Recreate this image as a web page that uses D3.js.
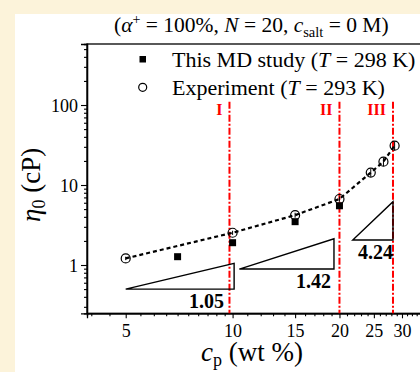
<!DOCTYPE html>
<html>
<head>
<meta charset="utf-8">
<script src="https://cdn.jsdelivr.net/npm/d3@7"></script>
<style>
  html, body { margin: 0; padding: 0; background: #fcf3da; }
  svg { display: block; }
  text { font-family: "Liberation Serif", "Times New Roman", serif; fill: #000; }
</style>
</head>
<body>
<svg id="chart" width="420" height="372"></svg>
<script>
// Polymer concentration (wt %) and zero-shear viscosity (cP)
const mdConc = [7, 10, 15, 20];
const mdVisc = [1.27, 1.9, 3.48, 5.5];

const expConc = [5, 10, 15, 20, 24.5, 26.6, 28.6];
const expVisc = [1.21, 2.53, 4.2, 6.68, 14.3, 19.6, 31];
const expErr  = [0.06, 0.15, 0.3, 0.5, 1.6, 2.4, 4.0];

// Regime boundaries
const regimeConc = [9.8, 20, 28.3];
const regimeLabel = ["I", "II", "III"];

// Power-law slope guides
const slopeX0 = [5, 10.45, 21.8];
const slopeX1 = [10.1, 19.3, 28.3];
const slopeY0 = [0.5, 0.89, 2.05];
const slopeK  = [1.05, 1.42, 4.24];

const xMajor = [5, 10, 15, 20, 25, 30];
const xMinor = [4, 4.5, 5.5, 6, 6.5, 7, 7.5, 8, 8.5, 9, 9.5,
                11, 12, 13, 14, 16, 17, 18, 19,
                21, 22, 23, 24, 26, 27, 28, 29, 31, 32, 33, 34, 35];
const yMajor = [1, 10, 100];
const yMinor = [0.3, 0.4, 0.5, 0.6, 0.7, 0.8, 0.9,
                2, 3, 4, 5, 6, 7, 8, 9,
                20, 30, 40, 50, 60, 70, 80, 90,
                200, 300, 400, 500];

const svg = d3.select("#chart");

// white panel
svg.append("rect").attr("x", 15).attr("y", 14).attr("width", 405).attr("height", 358).attr("fill", "#fff");

const x = d3.scaleLog().domain([3.89, 36]).range([87, 430.1]);
const y = d3.scaleLog().domain([0.249, 579]).range([313.3, 44]);

// frame
svg.append("rect")
  .attr("x", x.range()[0]).attr("y", y.range()[1])
  .attr("width", x.range()[1] - x.range()[0])
  .attr("height", y.range()[0] - y.range()[1])
  .attr("fill", "none").attr("stroke", "#000").attr("stroke-width", 1.3);

// axes
const gx = svg.append("g").attr("transform", `translate(0,${y.range()[0]})`);
gx.call(d3.axisBottom(x).tickValues(xMajor).tickSize(5).tickFormat(d3.format("d")));
const gxm = svg.append("g").attr("transform", `translate(0,${y.range()[0]})`);
gxm.call(d3.axisBottom(x).tickValues(xMinor).tickSize(3).tickFormat(""));

const gy = svg.append("g").attr("transform", `translate(${x.range()[0]},0)`);
gy.call(d3.axisLeft(y).tickValues(yMajor).tickSize(6).tickPadding(3).tickFormat(d3.format("d")));
const gym = svg.append("g").attr("transform", `translate(${x.range()[0]},0)`);
gym.call(d3.axisLeft(y).tickValues(yMinor).tickSize(3).tickFormat(""));

[gx, gxm, gy, gym].forEach(g => {
  g.select(".domain").attr("stroke", "#000").attr("stroke-width", 1.3);
  g.selectAll(".tick line").attr("stroke", "#000").attr("stroke-width", 1.1);
  g.selectAll(".tick text").attr("font-family", "Liberation Serif").attr("font-size", 18).attr("fill", "#000");
});
gx.selectAll(".tick text").attr("dy", "0.88em");
gy.selectAll(".tick text").attr("dy", "0.34em");

// regime boundaries
const regimeTop = 110;
svg.append("g").selectAll("line").data(regimeConc).join("line")
  .attr("x1", d => x(d)).attr("x2", d => x(d))
  .attr("y1", y(regimeTop)).attr("y2", y.range()[0])
  .attr("stroke", "#ff0000").attr("stroke-width", 2)
  .attr("stroke-dasharray", "7,2,2,2");
svg.append("g").selectAll("text").data(regimeConc).join("text")
  .attr("x", d => x(d) - 7).attr("y", 115)
  .attr("text-anchor", "end")
  .attr("font-size", 16).attr("font-weight", "bold")
  .style("fill", "#ff0000")
  .text((d, i) => regimeLabel[i]);

// slope triangles
const tri = slopeK.map((k, i) => ({
  x0: slopeX0[i], x1: slopeX1[i], y0: slopeY0[i],
  y1: slopeY0[i] * Math.pow(slopeX1[i] / slopeX0[i], k), k
}));
svg.append("g").selectAll("path").data(tri).join("path")
  .attr("d", d => `M${x(d.x0)},${y(d.y0)}L${x(d.x1)},${y(d.y0)}L${x(d.x1)},${y(d.y1)}Z`)
  .attr("fill", "none").attr("stroke", "#000").attr("stroke-width", 1.4)
  .attr("stroke-linejoin", "miter");
const labelPad = [10, 3, 0];
svg.append("g").selectAll("text").data(tri).join("text")
  .attr("x", (d, i) => x(d.x1) - labelPad[i])
  .attr("y", d => y(d.y0) + 19)
  .attr("text-anchor", "end")
  .attr("font-size", 20).attr("font-weight", "bold")
  .text(d => d3.format(".2f")(d.k));

// MD points
svg.append("g").selectAll("rect").data(mdConc).join("rect")
  .attr("x", d => x(d) - 3.5).attr("y", (d, i) => y(mdVisc[i]) - 3.5)
  .attr("width", 7).attr("height", 7).attr("fill", "#000");

// experiment: dashed guide, error bars, open circles
const expPts = expConc.map((c, i) => [c, expVisc[i], expErr[i]]);
svg.append("path").datum(expPts)
  .attr("d", d3.line().x(d => x(d[0])).y(d => y(d[1])))
  .attr("fill", "none").attr("stroke", "#000").attr("stroke-width", 2.2)
  .attr("stroke-dasharray", "4,3");
svg.append("g").selectAll("line").data(expPts).join("line")
  .attr("x1", d => x(d[0])).attr("x2", d => x(d[0]))
  .attr("y1", d => y(d[1] - d[2])).attr("y2", d => y(d[1] + d[2]))
  .attr("stroke", "#000").attr("stroke-width", 1);
svg.append("g").selectAll("circle").data(expPts).join("circle")
  .attr("cx", d => x(d[0])).attr("cy", d => y(d[1])).attr("r", 4.5)
  .attr("fill", "none").attr("stroke", "#000").attr("stroke-width", 1.2);

// legend
svg.append("rect").attr("x", 139.5).attr("y", 56).attr("width", 6.5).attr("height", 6.5).attr("fill", "#000");
svg.append("circle").attr("cx", 142.7).attr("cy", 87.3).attr("r", 4).attr("fill", "none").attr("stroke", "#000").attr("stroke-width", 1.2);
const leg1 = svg.append("text").attr("x", 172).attr("y", 67).attr("font-size", 22);
leg1.append("tspan").text("This MD study (");
leg1.append("tspan").attr("font-style", "italic").text("T");
leg1.append("tspan").text(" = 298 K)");
const leg2 = svg.append("text").attr("x", 172).attr("y", 95).attr("font-size", 22);
leg2.append("tspan").text("Experiment (");
leg2.append("tspan").attr("font-style", "italic").text("T");
leg2.append("tspan").text(" = 293 K)");

// title
const title = svg.append("text").attr("x", 114).attr("y", 32).attr("font-size", 21.5);
title.append("tspan").text("(");
title.append("tspan").attr("font-style", "italic").text("α");
title.append("tspan").attr("font-size", 14).attr("dy", -8).text("+");
title.append("tspan").attr("dy", 8).text(" = 100%, ");
title.append("tspan").attr("font-style", "italic").text("N");
title.append("tspan").text(" = 20, ");
title.append("tspan").attr("font-style", "italic").text("c");
title.append("tspan").attr("font-size", 14.5).attr("dy", 5).text("salt");
title.append("tspan").attr("dy", -5).text(" = 0 M)");

// axis titles
const xt = svg.append("text").attr("x", 252).attr("y", 361).attr("text-anchor", "middle").attr("font-size", 27);
xt.append("tspan").attr("font-style", "italic").text("c");
xt.append("tspan").attr("font-size", 18).attr("dy", 5).text("p");
xt.append("tspan").attr("dy", -5).text(" (wt %)");

const yt = svg.append("text").attr("transform", "translate(40,222) rotate(-90)")
  .attr("text-anchor", "start").attr("font-size", 27);
yt.append("tspan").attr("font-style", "italic").text("η");
yt.append("tspan").attr("font-size", 18).attr("dy", 5).text("0");
yt.append("tspan").attr("dy", -5).text(" (cP)");
</script>
</body>
</html>
